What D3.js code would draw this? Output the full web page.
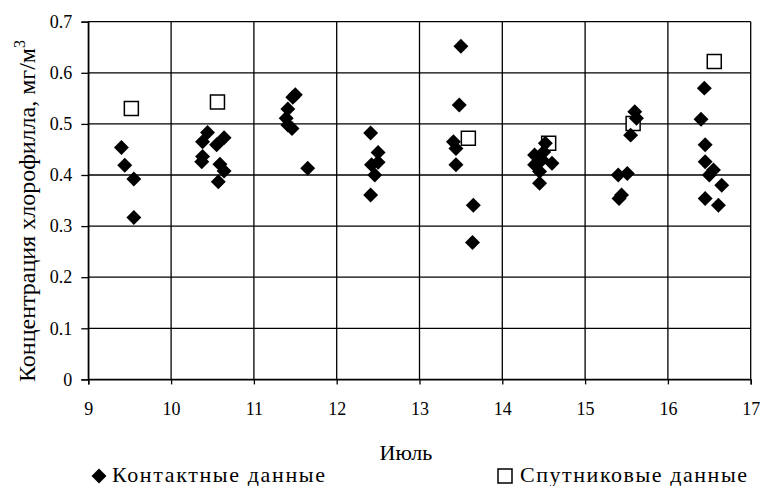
<!DOCTYPE html>
<html><head><meta charset="utf-8">
<script src="https://cdn.jsdelivr.net/npm/d3@7"></script>
<style>
body{margin:0;background:#fff;}
svg{display:block;}
text{font-family:"Liberation Serif","Times New Roman",serif;fill:#000;}
</style></head>
<body>
<svg id="c" width="761" height="486"></svg>
<script>
const contactX = [9.40,9.44,9.55,9.55,
  10.44,10.64,10.38,10.55,10.38,10.37,10.59,10.64,10.57,
  11.50,11.47,11.41,11.39,11.41,11.46,11.65,
  12.41,12.50,12.42,12.50,12.46,12.41,
  13.50,13.48,13.41,13.44,13.44,13.65,13.64,
  14.52,14.39,14.50,14.39,14.60,14.45,14.45,14.48,
  15.60,15.62,15.55,15.40,15.51,15.41,15.44,
  16.44,16.40,16.45,16.45,16.55,16.50,16.65,16.45,16.61];
const contactY = [0.454,0.419,0.392,0.317,
  0.483,0.473,0.465,0.459,0.436,0.426,0.421,0.408,0.387,
  0.557,0.552,0.529,0.511,0.498,0.491,0.413,
  0.482,0.444,0.420,0.425,0.400,0.361,
  0.652,0.537,0.465,0.452,0.420,0.341,0.268,
  0.462,0.439,0.445,0.420,0.423,0.407,0.384,0.430,
  0.524,0.511,0.478,0.400,0.403,0.354,0.361,
  0.570,0.509,0.459,0.426,0.410,0.400,0.380,0.354,0.341];
const satX = [9.52,10.56,13.59,14.56,15.58,16.56];
const satY = [0.530,0.543,0.472,0.462,0.501,0.622];
const xTicks = [9,10,11,12,13,14,15,16,17];
const yTicks = [0,0.1,0.2,0.3,0.4,0.5,0.6,0.7];
const yTitle = "Концентрация хлорофилла, мг/м";
const yTitleSup = "3";
const xTitle = "Июль";
const legendLabels = ["Контактные данные","Спутниковые данные"];

const svg = d3.select("#c");
const L=88.3,R=750.7,T=21.7,B=379.4;
const x = d3.scaleLinear().domain([9,17]).range([L,R]);
const y = d3.scaleLinear().domain([0,0.7]).range([B,T]);

// grid
const g = svg.append("g");
g.selectAll(".hg").data(yTicks).join("line")
  .attr("x1",L).attr("x2",R).attr("y1",d=>y(d)).attr("y2",d=>y(d))
  .attr("stroke","#000").attr("stroke-width",1.3);
g.selectAll(".vg").data(xTicks).join("line")
  .attr("y1",T).attr("y2",B).attr("x1",d=>x(d)).attr("x2",d=>x(d))
  .attr("stroke","#000").attr("stroke-width",1.3);

// axes
const yAxis = svg.append("g").attr("transform",`translate(${L},0)`)
  .call(d3.axisLeft(y).tickValues(yTicks).tickFormat(d3.format(".1~f")).tickSize(7).tickPadding(9));
const xAxis = svg.append("g").attr("transform",`translate(0,${B})`)
  .call(d3.axisBottom(x).tickValues(xTicks).tickFormat(d3.format("d")).tickSize(5).tickPadding(18));
[yAxis,xAxis].forEach(a=>{
  a.attr("font-family","Liberation Serif");
  a.select(".domain").attr("stroke","#000").attr("stroke-width",1.3);
  a.selectAll(".tick line").attr("stroke","#000").attr("stroke-width",1.3);
  a.selectAll("text").attr("font-family","Liberation Serif").attr("font-size",18).attr("fill","#000");
});
yAxis.selectAll(".tick text").text(d=>d===0?"0":d3.format(".1f")(d));

// satellite squares (drawn first)
const sq = d3.symbol().type(d3.symbolSquare).size(196);
svg.append("g").selectAll("path").data(satX.map((v,i)=>[v,satY[i]])).join("path")
  .attr("d",sq).attr("transform",d=>`translate(${x(d[0])},${y(d[1])})`)
  .attr("fill","#fff").attr("stroke","#000").attr("stroke-width",1.5);

// contact diamonds
const dm = d3.symbol().type(d3.symbolSquare).size(112);
svg.append("g").selectAll("path").data(contactX.map((v,i)=>[v,contactY[i]])).join("path")
  .attr("d",dm).attr("transform",d=>`translate(${x(d[0])},${y(d[1])}) rotate(45)`)
  .attr("fill","#000");

// titles
const yt = svg.append("text").attr("transform","translate(35,382) rotate(-90)")
  .attr("font-size",24).attr("text-anchor","start");
yt.append("tspan").text(yTitle);
yt.append("tspan").attr("font-size",16).attr("dy",-10).text(yTitleSup);

svg.append("text").attr("x",406).attr("y",460).attr("text-anchor","middle")
  .attr("font-size",22).text(xTitle);

// legend
const lg = svg.append("g");
lg.append("path").attr("d",d3.symbol().type(d3.symbolSquare).size(112)())
  .attr("transform","translate(99,476) rotate(45)").attr("fill","#000");
lg.append("text").attr("x",112).attr("y",482).attr("font-size",22)
  .attr("textLength",213).attr("lengthAdjust","spacing").text(legendLabels[0]);
lg.append("path").attr("d",d3.symbol().type(d3.symbolSquare).size(196)())
  .attr("transform","translate(505,476)").attr("fill","#fff").attr("stroke","#000").attr("stroke-width",1.5);
lg.append("text").attr("x",520).attr("y",482).attr("font-size",22)
  .attr("textLength",227).attr("lengthAdjust","spacing").text(legendLabels[1]);
</script>
</body></html>
